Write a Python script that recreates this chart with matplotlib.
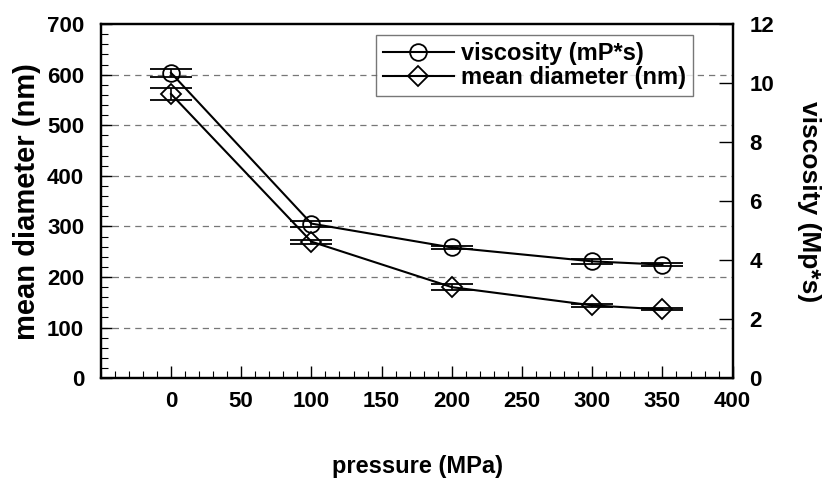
#!/usr/bin/env python3
import matplotlib
matplotlib.use('Agg')
import matplotlib.pyplot as plt
from matplotlib.lines import Line2D
from matplotlib.ticker import MultipleLocator

pressure = [0, 100, 200, 300, 350]
viscosity = [10.35, 5.24, 4.43, 3.96, 3.85]
viscosity_err = [0.13, 0.10, 0.06, 0.08, 0.06]
diameter = [562, 270, 180, 144, 136]
diameter_err = [11, 4, 6, 3, 2]

x_ticks = [0, 50, 100, 150, 200, 250, 300, 350, 400]
left_ticks = [0, 100, 200, 300, 400, 500, 600, 700]
right_ticks = [0, 2, 4, 6, 8, 10, 12]

plt.rcParams['font.family'] = ['Liberation Sans', 'DejaVu Sans']
plt.rcParams['font.weight'] = 'bold'

fig = plt.figure(figsize=(8.26, 4.83), dpi=100)
ax = fig.add_axes([0.122, 0.217, 0.765, 0.733])
ax2 = ax.twinx()

# dashed grid from the left axis
for v in left_ticks[1:-1]:
    ax.axhline(v, color='#777777', linestyle=(0, (5, 4)), linewidth=0.9, zorder=0)

ax.errorbar(pressure, diameter, yerr=diameter_err, color='black', linewidth=1.5,
            marker='D', markersize=10, markerfacecolor='none', markeredgecolor='black',
            markeredgewidth=1.3, capsize=15, capthick=1.8, elinewidth=1.2)
ax2.errorbar(pressure, viscosity, yerr=viscosity_err, color='black', linewidth=1.5,
             marker='o', markersize=12, markerfacecolor='none', markeredgecolor='black',
             markeredgewidth=1.3, capsize=15, capthick=1.8, elinewidth=1.2)

ax.set_xlim(-50, 400)
ax.set_ylim(0, 700)
ax2.set_ylim(0, 12)
ax.set_xticks(x_ticks)
ax.set_yticks(left_ticks)
ax2.set_yticks(right_ticks)
ax.xaxis.set_minor_locator(MultipleLocator(10))
ax.yaxis.set_minor_locator(MultipleLocator(20))

ax.tick_params(axis='x', which='major', direction='in', length=9, width=1, labelsize=16, pad=9)
ax.tick_params(axis='x', which='minor', direction='in', length=5, width=0.8)
ax.tick_params(axis='y', which='major', direction='in', length=8, width=1, labelsize=16, pad=12)
ax.tick_params(axis='y', which='minor', direction='in', length=5, width=0.8)
ax2.tick_params(axis='y', which='major', direction='in', length=10, width=1, labelsize=16, pad=12)

for a in (ax, ax2):
    for s in a.spines.values():
        s.set_linewidth(1.6)

ax.set_ylabel('mean diameter (nm)', fontsize=21, fontweight='bold', labelpad=4)
ax2.set_ylabel('viscosity (Mp*s)', fontsize=19, fontweight='bold', rotation=270, labelpad=34)
fig.text(0.505, 0.035, 'pressure (MPa)', fontsize=17, fontweight='bold', ha='center', va='center')

handles = [
    Line2D([], [], color='black', linewidth=1.5, marker='o', markersize=12,
           markerfacecolor='none', markeredgewidth=1.3),
    Line2D([], [], color='black', linewidth=1.5, marker='D', markersize=10,
           markerfacecolor='none', markeredgewidth=1.3),
]
labels = ['viscosity (mP*s)', 'mean diameter (nm)']
leg = ax2.legend(handles, labels, loc='upper right', bbox_to_anchor=(0.937, 0.969),
                 fontsize=17, frameon=True, fancybox=False, edgecolor='#555555',
                 handlelength=3.0, handletextpad=0.3, borderpad=0.3, labelspacing=0.05,
                 borderaxespad=0)
leg.get_frame().set_linewidth(1.0)
for t in leg.get_texts():
    t.set_fontweight('bold')

fig.savefig('out.png', dpi=100)
